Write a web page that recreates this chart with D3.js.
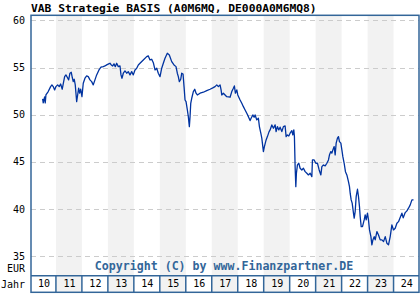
<!DOCTYPE html>
<html>
<head>
<meta charset="utf-8">
<script src="https://cdn.jsdelivr.net/npm/d3@7/dist/d3.min.js"></script>
<style>
  html, body { margin: 0; padding: 0; background: #ffffff; }
  svg { display: block; }
  text { font-family: "DejaVu Sans Mono", monospace; }
</style>
</head>
<body>
<svg id="chart" width="420" height="300"></svg>
<script>
const title = "VAB Strategie BASIS (A0M6MQ, DE000A0M6MQ8)";
const copyright = "Copyright (C) by www.Finanzpartner.DE";
const yTicks = [35, 40, 45, 50, 55, 60];
const yearLabels = ["10","11","12","13","14","15","16","17","18","19","20","21","22","23","24"];
const yearStarts = [2010,2011,2012,2013,2014,2015,2016,2017,2018,2019,2020,2021,2022,2023,2024];

const dates = [
2010.488,2010.511,2010.565,2010.588,2010.615,2010.703,2010.796,2010.846,2010.896,2010.950,
2011.000,2011.066,2011.127,2011.181,2011.243,2011.281,2011.335,2011.385,2011.436,2011.490,
2011.540,2011.590,2011.628,2011.667,2011.705,2011.744,2011.771,2011.798,2011.836,2011.875,
2011.913,2011.952,2012.002,2012.052,2012.118,2012.183,2012.245,2012.310,2012.376,2012.437,
2012.503,2012.568,2012.657,2012.734,2012.823,2012.888,2012.954,2013.031,2013.081,2013.131,
2013.185,2013.235,2013.285,2013.339,2013.401,2013.467,2013.505,2013.543,2013.594,2013.659,
2013.725,2013.786,2013.852,2013.917,2013.979,2014.044,2014.110,2014.172,2014.237,2014.364,
2014.495,2014.557,2014.622,2014.688,2014.750,2014.815,2014.881,2014.942,2015.008,2015.073,
2015.135,2015.200,2015.289,2015.366,2015.458,2015.547,2015.624,2015.674,2015.713,2015.752,
2015.806,2015.844,2015.894,2015.933,2015.971,2016.010,2016.060,2016.098,2016.137,2016.164,
2016.191,2016.229,2016.291,2016.345,2016.395,2016.445,2016.549,2016.676,2016.807,2016.935,
2017.039,2017.127,2017.193,2017.255,2017.320,2017.359,2017.386,2017.447,2017.513,2017.578,
2017.705,2017.771,2017.833,2017.871,2017.910,2017.964,2018.002,2018.091,2018.157,2018.218,
2018.284,2018.349,2018.411,2018.476,2018.515,2018.581,2018.631,2018.669,2018.735,2018.796,
2018.835,2018.889,2018.927,2018.966,2018.989,2019.027,2019.093,2019.143,2019.208,2019.247,
2019.313,2019.374,2019.440,2019.478,2019.528,2019.582,2019.632,2019.698,2019.759,2019.825,
2019.863,2019.913,2019.967,2020.017,2020.083,2020.121,2020.160,2020.183,2020.210,2020.237,
2020.260,2020.299,2020.352,2020.403,2020.468,2020.530,2020.596,2020.661,2020.723,2020.789,
2020.854,2020.877,2020.943,2021.008,2021.070,2021.136,2021.201,2021.240,2021.301,2021.367,
2021.432,2021.494,2021.533,2021.586,2021.625,2021.664,2021.713,2021.752,2021.790,2021.840,
2021.879,2021.917,2021.971,2022.010,2022.048,2022.098,2022.148,2022.202,2022.264,2022.303,
2022.330,2022.368,2022.407,2022.457,2022.484,2022.522,2022.561,2022.611,2022.650,2022.688,
2022.715,2022.754,2022.804,2022.869,2022.908,2022.946,2022.996,2023.035,2023.074,2023.128,
2023.166,2023.205,2023.255,2023.293,2023.359,2023.421,2023.486,2023.552,2023.614,2023.680,
2023.743,2023.806,2023.871,2023.936,2023.998,2024.064,2024.129,2024.191,2024.256,2024.322,
2024.372,2024.449,2024.514,2024.576,2024.642,2024.707,2024.769
];
const values = [
51.67,51.25,51.88,51.25,52.09,52.45,52.98,53.16,52.98,52.63,
52.98,53.16,52.98,53.26,52.70,53.26,54.04,54.22,53.97,53.69,
54.40,54.50,53.97,53.51,53.76,53.16,52.28,51.38,52.09,52.81,
52.28,52.70,51.91,53.34,53.87,54.11,54.04,53.69,53.51,53.16,
53.69,54.22,54.75,55.04,55.10,55.17,55.28,55.39,55.46,55.28,
55.17,55.39,55.10,55.46,55.10,55.17,54.22,53.87,54.40,54.64,
54.40,54.57,54.22,54.57,54.22,54.75,54.93,55.28,55.46,55.81,
56.16,56.24,55.81,55.88,55.52,54.75,54.93,54.40,54.04,54.93,
55.46,55.99,56.52,56.34,55.63,55.28,55.10,54.40,54.04,53.51,
53.76,54.40,54.32,52.98,51.56,51.38,50.50,49.79,48.73,49.79,
51.21,51.74,52.45,52.70,52.28,52.09,52.28,52.38,52.55,52.70,
52.84,52.98,53.16,52.98,53.16,52.63,52.09,52.28,52.09,51.91,
51.85,52.45,52.81,53.05,52.28,52.63,52.09,51.56,51.21,50.85,
50.50,50.15,49.79,49.37,49.62,49.97,49.73,49.97,49.44,49.62,
48.73,48.03,47.50,46.61,46.08,46.61,47.32,47.67,48.20,48.38,
48.91,48.56,48.91,48.20,48.73,48.38,48.67,48.20,48.73,48.80,
47.67,47.85,47.74,48.03,48.31,47.85,48.38,47.67,44.48,42.36,
43.78,44.66,44.84,44.31,44.13,44.31,43.95,43.78,43.60,43.78,
43.42,45.19,45.19,44.84,44.84,44.13,43.60,44.48,44.66,44.56,
44.84,45.19,45.73,46.08,45.91,46.26,46.61,45.73,46.97,47.50,
47.67,47.14,46.97,46.26,45.54,44.84,43.95,43.60,42.89,42.36,
41.66,40.95,40.60,39.54,39.01,39.71,41.30,42.08,41.30,40.24,
39.18,38.11,38.11,38.82,39.36,38.82,39.54,38.82,37.76,37.05,
36.17,36.70,37.05,36.70,37.58,37.23,36.70,36.70,36.52,37.05,
36.35,36.17,37.05,38.29,37.76,37.94,38.47,38.64,39.09,39.54,
39.04,39.60,39.78,40.07,40.42,40.95,40.95
];

(function () {
const svg = d3.select("#chart");
const left = 31, right = 419, plotTop = 15.3, plotBottom = 275.7, axisBottom = 292.3;
const frameColor = "#336699";

const x = d3.scaleLinear().domain([2010.04, 2024.98]).range([left, right]);
const y = d3.scaleLinear().domain([32.9, 60.55]).range([plotBottom, plotTop]);

// shaded bands for odd years
const bands = yearStarts.map((yr, i) => ({
  yr, label: yearLabels[i],
  x0: Math.max(left, x(yr)), x1: Math.min(right, x(yr + 1))
}));
svg.append("g").selectAll("rect").data(bands.filter(d => d.yr % 2 === 1)).join("rect")
  .attr("x", d => d.x0).attr("width", d => d.x1 - d.x0)
  .attr("y", plotTop).attr("height", axisBottom - plotTop)
  .attr("fill", "#f2f2f2");

// grid lines
svg.append("g").selectAll("line").data(yTicks).join("line")
  .attr("x1", left).attr("x2", right)
  .attr("y1", d => Math.round(y(d)) + 0.5).attr("y2", d => Math.round(y(d)) + 0.5)
  .attr("stroke", "#cccccc").attr("stroke-width", 1)
  .attr("stroke-dasharray", "5,4");

// y axis labels
const yAxis = svg.append("g").attr("transform", `translate(${left},0)`)
  .call(d3.axisLeft(y).tickValues(yTicks).tickSize(0).tickPadding(6).tickFormat(d3.format("d")));
yAxis.select(".domain").remove();
yAxis.selectAll("text").attr("font-family", "DejaVu Sans Mono").attr("font-size", 10).attr("fill", "#000");

// price line
const line = d3.line().x((d, i) => x(dates[i])).y(d => y(d));
svg.append("path").datum(values)
  .attr("d", line).attr("fill", "none")
  .attr("stroke", "#0033a0").attr("stroke-width", 1.3)
  .attr("stroke-linejoin", "round");

// copyright
svg.append("text").attr("x", 224).attr("y", 270).attr("text-anchor", "middle")
  .attr("font-size", 11.6).attr("font-weight", "bold").attr("fill", "#336699")
  .text(copyright);

// year axis cells
const xAxis = svg.append("g").attr("transform", `translate(0,${plotBottom})`)
  .call(d3.axisBottom(x).tickValues(bands.map(d => x.invert((d.x0 + d.x1) / 2)))
    .tickSize(0).tickPadding(4).tickFormat((d, i) => yearLabels[i]));
xAxis.select(".domain").remove();
xAxis.selectAll("text").attr("font-family", "DejaVu Sans Mono").attr("font-size", 10).attr("fill", "#000");

svg.append("g").selectAll("line").data(yearStarts.slice(1)).join("line")
  .attr("x1", d => x(d)).attr("x2", d => x(d))
  .attr("y1", plotBottom).attr("y2", axisBottom)
  .attr("stroke", frameColor).attr("stroke-width", 1.5);

// frame
svg.append("rect").attr("x", left).attr("y", plotTop).attr("width", right - left).attr("height", axisBottom - plotTop)
  .attr("fill", "none").attr("stroke", frameColor).attr("stroke-width", 1.5);
svg.append("line").attr("x1", left).attr("x2", right).attr("y1", plotBottom).attr("y2", plotBottom)
  .attr("stroke", frameColor).attr("stroke-width", 1.5);

// labels
svg.append("text").attr("x", left).attr("y", 12).attr("font-size", 11.3).attr("font-weight", "bold")
  .attr("fill", "#000").text(title);
svg.append("text").attr("x", 25).attr("y", 272).attr("text-anchor", "end").attr("font-size", 10).text("EUR");
svg.append("text").attr("x", 25).attr("y", 288).attr("text-anchor", "end").attr("font-size", 10).text("Jahr");
})();
</script>
</body>
</html>
